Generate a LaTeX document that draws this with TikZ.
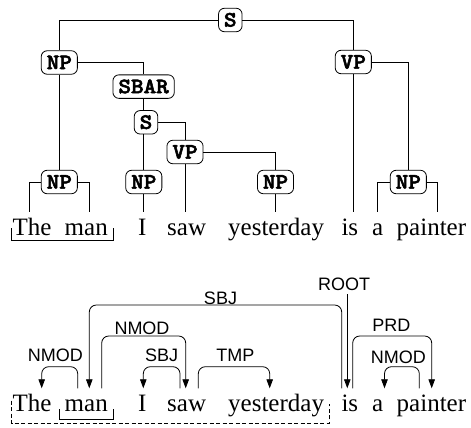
\documentclass[tikz,border=0pt]{standalone}
\usepackage{fontspec}
\setmainfont{Liberation Serif}
\newfontfamily\depfont{Liberation Sans}
\newfontfamily\catfont{lmmonolt10-bold}[Extension=.otf,FakeStretch=1.09,FakeBold=2.5]
\usetikzlibrary{arrows.meta}
\tikzset{
  cat/.style={draw, rounded corners=6pt, line width=0.8pt, inner xsep=5.5pt, inner ysep=0pt,
    minimum height=23.5pt, text height=13.2pt, text depth=0pt,
    font=\catfont\fontsize{22}{22}\selectfont},
  word/.style={anchor=base west, inner sep=0pt, font=\fontsize{25}{25}\selectfont},
  deplab/.style={anchor=base, inner sep=0pt, font=\depfont\fontsize{18}{18}\selectfont},
  tree/.style={line width=0.8pt},
  dep/.style={line width=0.8pt, rounded corners=7pt},
  deparr/.style={dep, -{Triangle[width=6.5pt,length=9pt]}},
  dashbox/.style={line width=0.8pt, dash pattern=on 4pt off 2.5pt},
}
\begin{document}
\begin{tikzpicture}[x=1pt,y=-1pt]
\useasboundingbox (0,0) rectangle (471,428);
% ---------- constituency tree ----------
\node[cat] (S) at (230.3,20) {S};
\node[cat] (NP1) at (59.3,62.5) {NP};
\node[cat] (VP1) at (353.3,62) {VP};
\node[cat] (SBAR) at (143.6,86.6) {SBAR};
\node[cat] (S2) at (146,122.3) {S};
\node[cat] (VP2) at (185,152) {VP};
\node[cat] (NPa) at (59.3,182) {NP};
\node[cat] (NPb) at (143.8,182) {NP};
\node[cat] (NPc) at (275.5,182) {NP};
\node[cat] (NPd) at (408.3,182) {NP};
\coordinate (lThe) at (29.3,211.7);
\coordinate (lman) at (89.3,211.7);
\coordinate (lI) at (143.8,211.7);
\coordinate (lsaw) at (185,211.7);
\coordinate (lyes) at (275.5,211.7);
\coordinate (lis) at (353.3,211.7);
\coordinate (la) at (377.3,211.7);
\coordinate (lpainter) at (437.3,211.7);
\draw[tree] (S.west) -| (NP1.north);
\draw[tree] (S.east) -| (VP1.north);
\draw[tree] (NP1.east) -| (SBAR.north);
\draw[tree] (NP1) -- (NPa);
\draw[tree] (SBAR) -- (SBAR |- S2.north);
\draw[tree] (S2.east) -| (VP2.north);
\draw[tree] (S2.south -| NPb) -- (NPb);
\draw[tree] (VP2.east) -| (NPc.north);
\draw[tree] (VP2) -- (lsaw);
\draw[tree] (NPb) -- (lI);
\draw[tree] (NPc) -- (lyes);
\draw[tree] (VP1) -- (lis);
\draw[tree] (VP1.east) -| (NPd.north);
\draw[tree] (NPa.west) -| (lThe);
\draw[tree] (NPa.east) -| (lman);
\draw[tree] (NPd.west) -| (la);
\draw[tree] (NPd.east) -| (lpainter);
% top sentence
\node[word] (tThe) at (12.5,235) {The};
\node[word] (tman) at (64.5,235) {man};
\node[word] (tI) at (137.8,235) {I};
\node[word] (tsaw) at (167,235) {saw};
\node[word] (tyes) at (228,235) {yesterday};
\node[word] (tis) at (341.3,235) {is};
\node[word] (ta) at (371.8,235) {a};
\node[word] (tpainter) at (396.5,235) {painter};
\draw[tree] (11.7,228.3) |- (113.3,240) -- (113.3,228.3);
% ---------- dependency tree ----------
\node[word] (bThe) at (12.5,411.7) {The};
\node[word] (bman) at (64.5,411.7) {man};
\node[word] (bI) at (137.8,411.7) {I};
\node[word] (bsaw) at (167,411.7) {saw};
\node[word] (byes) at (228,411.7) {yesterday};
\node[word] (bis) at (341.3,411.7) {is};
\node[word] (ba) at (371.8,411.7) {a};
\node[word] (bpainter) at (396.5,411.7) {painter};
\draw[tree] (59.3,409.3) |- (113.3,419.3) -- (113.3,409.3);
\draw[dashbox] (11.7,400.5) |- (329,423.5) -- (329,404);
\coordinate (Lhi) at (0,305);
\coordinate (Lmid) at (0,336);
\coordinate (Llo) at (0,366.7);
\coordinate (dThe) at (41.7,388.3);
\coordinate (dmanA) at (77.7,388.3);
\coordinate (dmanB) at (89.3,388.3);
\coordinate (dmanC) at (101.7,388.3);
\coordinate (dI) at (143.3,388.3);
\coordinate (dsawA) at (180,388.3);
\coordinate (dsawB) at (185.7,388.3);
\coordinate (dsawC) at (198.3,388.3);
\coordinate (dyes) at (269.7,388.3);
\coordinate (disA) at (341.7,388.3);
\coordinate (disB) at (347.3,388.3);
\coordinate (disC) at (352.7,388.3);
\coordinate (droot) at (347.3,294);
\coordinate (da) at (384.5,388.3);
\coordinate (dpA) at (419.3,388.3);
\coordinate (dpB) at (431.7,388.3);
\draw[deparr] (dmanA) -- (dmanA |- Llo) -| (dThe);
\draw[deparr] (disA) -- (disA |- Lhi) -| (dmanB);
\draw[deparr] (dmanC) -- (dmanC |- Lmid) -| (dsawB);
\draw[deparr] (dsawA) -- (dsawA |- Llo) -| (dI);
\draw[deparr] (dsawC) -- (dsawC |- Llo) -| (dyes);
\draw[deparr] (droot) -- (disB);
\draw[deparr] (disC) -- (disC |- Lmid) -| (dpB);
\draw[deparr] (dpA) -- (dpA |- Llo) -| (da);
\node[deplab] (l1) at (55.3,361.7) {NMOD};
\node[deplab] (l2) at (220.5,304) {SBJ};
\node[deplab] (l3) at (142,334) {NMOD};
\node[deplab] (l4) at (161.7,361.7) {SBJ};
\node[deplab] (l5) at (235.3,361.7) {TMP};
\node[deplab] (l6) at (344.2,290.7) {ROOT};
\node[deplab] (l7) at (391.3,331.7) {PRD};
\node[deplab] (l8) at (398.3,363.5) {NMOD};
\end{tikzpicture}
\end{document}
